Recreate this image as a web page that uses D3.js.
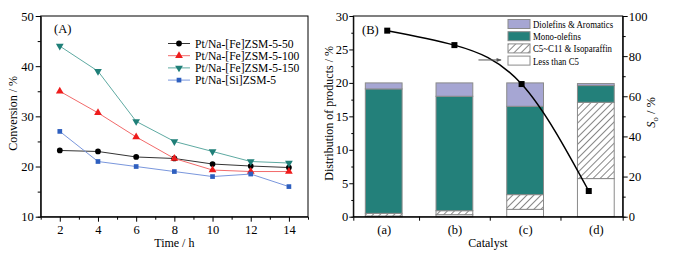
<!DOCTYPE html>
<html>
<head>
<meta charset="utf-8">
<script src="https://cdn.jsdelivr.net/npm/d3@7"></script>
<style>
  body { margin: 0; background: #fff; }
  svg { font-family: "Liberation Serif", serif; }
  .axis text { font-size: 12.5px; fill: #000; font-family: "Liberation Serif", serif; }
  .axis path, .axis line { stroke: #000; }
</style>
</head>
<body>
<div class="chart-holder"></div>
<script>
// panel A data
const times = [2, 4, 6, 8, 10, 12, 14];
const fe50 = [23.2, 23.0, 21.9, 21.6, 20.5, 20.1, 19.8];
const fe100 = [35.0, 30.7, 25.9, 21.6, 19.3, 19.0, 19.0];
const fe150 = [44.0, 39.0, 29.0, 25.0, 23.0, 21.0, 20.7];
const si = [27.0, 21.0, 20.0, 19.0, 18.0, 18.5, 16.0];
const seriesNames = ["Pt/Na-[Fe]ZSM-5-50", "Pt/Na-[Fe]ZSM-5-100", "Pt/Na-[Fe]ZSM-5-150", "Pt/Na-[Si]ZSM-5"];

// panel B data
const catalysts = ["(a)", "(b)", "(c)", "(d)"];
const lessC5 = [0.1, 0.3, 1.1, 5.7];
const c5c11 = [0.4, 0.6, 2.2, 11.4];
const monoOlefins = [18.6, 17.1, 13.2, 2.5];
const dioAromatics = [0.9, 2.0, 3.5, 0.3];
const stackNames = ["Diolefins & Aromatics", "Mono-olefins", "C5~C11 & Isoparaffin", "Less than C5"];
const soPos = [1.05, 2.0, 2.95, 3.9];
const soValues = [92.7, 85.5, 66.1, 12.8];

const width = 674, height = 253;
const svg = d3.select(".chart-holder").append("svg").attr("width", width).attr("height", height)
  .attr("font-family", "Liberation Serif, serif");

const defs = svg.append("defs");
const pat = defs.append("pattern").attr("id", "hatch").attr("patternUnits", "userSpaceOnUse")
  .attr("width", 5).attr("height", 5).attr("patternTransform", "rotate(45)");
pat.append("rect").attr("width", 5).attr("height", 5).attr("fill", "#fff");
pat.append("line").attr("x1", 0).attr("y1", 0).attr("x2", 0).attr("y2", 5).attr("stroke", "#222").attr("stroke-width", 1.1);
defs.append("marker").attr("id", "arrow").attr("viewBox", "0 0 10 10").attr("refX", 9).attr("refY", 5)
  .attr("markerWidth", 6).attr("markerHeight", 5).attr("orient", "auto")
  .append("path").attr("d", "M0,1 L10,5 L0,9 Z").attr("fill", "#555");

// ---------- panel A ----------
const xA = d3.scaleLinear().domain([1, 15]).range([40.7, 308]);
const yA = d3.scaleLinear().domain([10, 50]).range([216.7, 16]);

svg.append("g").attr("class", "axis").attr("transform", `translate(0,${yA(10)})`)
  .call(d3.axisBottom(xA).tickValues(d3.range(3, 15, 2)).tickSize(3).tickFormat(""));
svg.append("g").attr("class", "axis").attr("transform", `translate(0,${yA(10)})`)
  .call(d3.axisBottom(xA).tickValues(times).tickSize(5).tickPadding(3))
  .call(g => g.select(".domain").remove());
svg.append("g").attr("class", "axis").attr("transform", `translate(${xA(1)},0)`)
  .call(d3.axisLeft(yA).tickValues([15, 25, 35, 45]).tickSize(3).tickFormat(""));
svg.append("g").attr("class", "axis").attr("transform", `translate(${xA(1)},0)`)
  .call(d3.axisLeft(yA).tickValues([10, 20, 30, 40, 50]).tickSize(5).tickPadding(2))
  .call(g => g.select(".domain").remove());
svg.append("rect").attr("x", xA(1)).attr("y", yA(50)).attr("width", xA(15) - xA(1)).attr("height", yA(10) - yA(50))
  .attr("fill", "none").attr("stroke", "#000");

const seriesA = [
  { name: seriesNames[0], values: fe50, line: "#333", fill: "#000", sym: d3.symbolCircle, size: 26, rot: 0 },
  { name: seriesNames[1], values: fe100, line: "#f26a6a", fill: "#ee1c1c", sym: d3.symbolTriangle, size: 26, rot: 0 },
  { name: seriesNames[2], values: fe150, line: "#5eaaa2", fill: "#1f7f78", sym: d3.symbolTriangle, size: 26, rot: 180 },
  { name: seriesNames[3], values: si, line: "#7a97dd", fill: "#2e5fbf", sym: d3.symbolSquare, size: 22, rot: 0 }
];
const lineA = d3.line().x((d, i) => xA(times[i])).y(d => yA(d));
seriesA.forEach(s => {
  svg.append("path").attr("d", lineA(s.values)).attr("fill", "none").attr("stroke", s.line).attr("stroke-width", 1);
  svg.append("g").selectAll("path").data(s.values).enter().append("path")
    .attr("d", d3.symbol().type(s.sym).size(s.size))
    .attr("transform", (d, i) => `translate(${xA(times[i])},${yA(d)}) rotate(${s.rot})`)
    .attr("fill", s.fill);
});

svg.append("text").attr("x", 54).attr("y", 33).attr("font-size", 12.5).text("(A)");
const legA = svg.append("g").selectAll("g").data(seriesA).enter().append("g")
  .attr("transform", (d, i) => `translate(168,${43.5 + i * 12.2})`);
legA.append("line").attr("x1", 0).attr("x2", 22).attr("stroke", d => d.line);
legA.append("path").attr("d", d => d3.symbol().type(d.sym).size(d.size)())
  .attr("transform", d => `translate(11,0) rotate(${d.rot})`).attr("fill", d => d.fill);
legA.append("text").attr("x", 27).attr("y", 4).attr("font-size", 11.6).text(d => d.name);

svg.append("text").attr("x", xA(8)).attr("y", 247).attr("text-anchor", "middle").attr("font-size", 12).text("Time / h");
svg.append("text").attr("transform", `translate(17,${yA(30) - 3}) rotate(-90)`).attr("text-anchor", "middle")
  .attr("font-size", 12).text("Conversion / %");

// ---------- panel B ----------
const xB = d3.scaleLinear().domain([0.57, 4.38]).range([353.3, 622.7]);
const yB = d3.scaleLinear().domain([0, 30]).range([216.7, 16]);
const yR = d3.scaleLinear().domain([0, 100]).range([216.7, 16]);
const barW = xB(1.26) - xB(0.74);

const table = catalysts.map((c, i) => ({
  cat: c, pos: i + 1,
  [stackNames[3]]: lessC5[i], [stackNames[2]]: c5c11[i],
  [stackNames[1]]: monoOlefins[i], [stackNames[0]]: dioAromatics[i]
}));
const stack = d3.stack().keys([stackNames[3], stackNames[2], stackNames[1], stackNames[0]])(table);
const fills = { [stackNames[0]]: "#a6a6d3", [stackNames[1]]: "#23807a", [stackNames[2]]: "url(#hatch)", [stackNames[3]]: "#fff" };

svg.append("g").selectAll("g").data(stack).enter().append("g")
  .attr("fill", d => fills[d.key])
  .selectAll("rect").data(d => d).enter().append("rect")
  .attr("x", d => xB(d.data.pos) - barW / 2).attr("width", barW)
  .attr("y", d => yB(d[1])).attr("height", d => yB(d[0]) - yB(d[1]))
  .attr("stroke", "#8a8a8a").attr("stroke-width", 1);

svg.append("g").attr("class", "axis").attr("transform", `translate(0,${yB(0)})`)
  .call(d3.axisBottom(xB).tickValues([1.5, 2.5, 3.5]).tickSize(4).tickFormat(""));
svg.append("g").attr("class", "axis").attr("transform", `translate(0,${yB(0)})`)
  .call(d3.axisBottom(xB).tickValues([1, 2, 3, 4]).tickSize(0).tickPadding(8).tickFormat((d, i) => catalysts[i]))
  .call(g => g.select(".domain").remove());
svg.append("g").attr("class", "axis").attr("transform", `translate(${xB(0.57)},0)`)
  .call(d3.axisLeft(yB).tickValues([2.5, 7.5, 12.5, 17.5, 22.5, 27.5]).tickSize(2).tickFormat(""));
svg.append("g").attr("class", "axis").attr("transform", `translate(${xB(0.57)},0)`)
  .call(d3.axisLeft(yB).tickValues([0, 5, 10, 15, 20, 25, 30]).tickSize(4).tickPadding(1))
  .call(g => g.select(".domain").remove());
svg.append("g").attr("class", "axis").attr("transform", `translate(${xB(4.38)},0)`)
  .call(d3.axisRight(yR).tickValues([10, 30, 50, 70, 90]).tickSize(3).tickFormat(""));
svg.append("g").attr("class", "axis").attr("transform", `translate(${xB(4.38)},0)`)
  .call(d3.axisRight(yR).tickValues([0, 20, 40, 60, 80, 100]).tickSize(5).tickPadding(1))
  .call(g => g.select(".domain").remove());
svg.append("rect").attr("x", xB(0.57)).attr("y", yB(30)).attr("width", xB(4.38) - xB(0.57)).attr("height", yB(0) - yB(30))
  .attr("fill", "none").attr("stroke", "#000");

// selectivity curve
const soLine = d3.line().x((d, i) => xB(soPos[i])).y(d => yR(d)).curve(d3.curveNatural);
svg.append("path").attr("d", soLine(soValues)).attr("fill", "none").attr("stroke", "#000").attr("stroke-width", 1.5);
svg.append("g").selectAll("rect").data(soValues).enter().append("rect")
  .attr("x", (d, i) => xB(soPos[i]) - 3).attr("y", d => yR(d) - 3).attr("width", 6).attr("height", 6).attr("fill", "#000");
svg.append("line").attr("x1", xB(2.34)).attr("x2", xB(2.66)).attr("y1", yR(78.1)).attr("y2", yR(78.1))
  .attr("stroke", "#555").attr("stroke-width", 1).attr("marker-end", "url(#arrow)");

svg.append("text").attr("x", 362).attr("y", 34).attr("font-size", 12.5).text("(B)");
// legend text in the source is horizontally condensed
const squeeze = 0.8;
const legB = svg.append("g").selectAll("g").data(stackNames).enter().append("g")
  .attr("transform", (d, i) => `translate(508,${19.5 + i * 12.2})`);
legB.append("rect").attr("width", 22).attr("height", 9).attr("fill", d => fills[d]).attr("stroke", "#8a8a8a");
legB.append("text").attr("transform", `translate(25,8.5) scale(${squeeze},1)`).attr("font-size", 11).text(d => d);

svg.append("text").attr("x", (xB(0.57) + xB(4.38)) / 2).attr("y", 247).attr("text-anchor", "middle")
  .attr("font-size", 12).text("Catalyst");
svg.append("text").attr("transform", `translate(333,${yB(15) - 3}) rotate(-90)`).attr("text-anchor", "middle")
  .attr("font-size", 12).text("Distribution of products / %");
const soLabel = svg.append("text").attr("transform", `translate(655,${yR(50) - 4}) rotate(-90)`).attr("text-anchor", "middle")
  .attr("font-size", 12.5);
soLabel.append("tspan").attr("font-style", "italic").text("S");
soLabel.append("tspan").attr("font-size", 8.5).attr("dy", 3).text("o");
soLabel.append("tspan").attr("dy", -3).text(" / %");
</script>
</body>
</html>
